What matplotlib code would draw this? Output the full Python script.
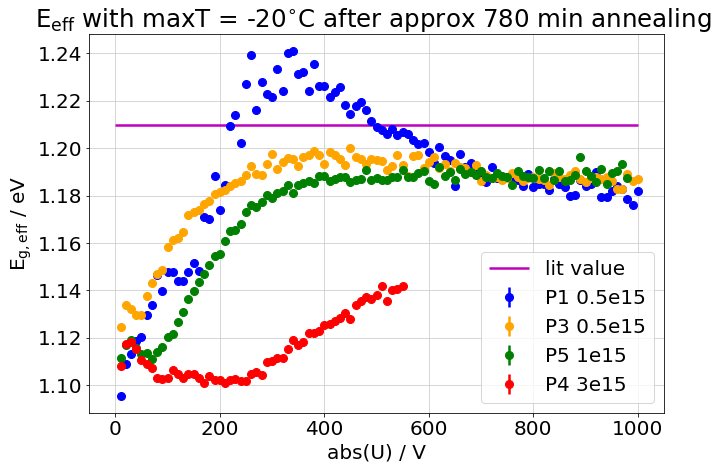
import numpy as np
import matplotlib
matplotlib.use('Agg')
import matplotlib.pyplot as plt

# bias voltage steps (V)
volt = np.arange(10, 1001, 10)
volt_p5 = np.arange(10, 981, 10)
volt_p4 = np.arange(10, 551, 10)

lit_value = 1.21

eg_p1 = [1.0956, 1.1091, 1.1132, 1.1187, 1.1205, 1.1296, 1.1339, 1.1466, 1.1396, 1.1479,
         1.1478, 1.1438, 1.1438, 1.1478, 1.1517, 1.1483, 1.1712, 1.1700, 1.1884, 1.1738,
         1.1846, 1.2092, 1.2140, 1.2024, 1.2270, 1.2393, 1.2160, 1.2280, 1.2228, 1.2216,
         1.2333, 1.2243, 1.2403, 1.2410, 1.2312, 1.2323, 1.2243, 1.2355, 1.2264, 1.2263,
         1.2214, 1.2236, 1.2260, 1.2183, 1.2146, 1.2179, 1.2193, 1.2162, 1.2115, 1.2089,
         1.2075, 1.2062, 1.2083, 1.2057, 1.2069, 1.2058, 1.2034, 1.2019, 1.2021, 1.1982,
         1.1937, 1.2007, 1.1968, 1.1950, 1.1839, 1.1977, 1.1920, 1.1937, 1.1890, 1.1880,
         1.1857, 1.1919, 1.1875, 1.1870, 1.1880, 1.1870, 1.1867, 1.1839, 1.1892, 1.1836,
         1.1849, 1.1850, 1.1822, 1.1870, 1.1849, 1.1835, 1.1800, 1.1802, 1.1864, 1.1840,
         1.1850, 1.1898, 1.1794, 1.1794, 1.1818, 1.1839, 1.1828, 1.1787, 1.1759, 1.1819]

eg_p3 = [1.1244, 1.1339, 1.1322, 1.1296, 1.1298, 1.1378, 1.1431, 1.1469, 1.1488, 1.1583,
         1.1611, 1.1620, 1.1648, 1.1718, 1.1730, 1.1741, 1.1764, 1.1777, 1.1808, 1.1816,
         1.1825, 1.1840, 1.1855, 1.1860, 1.1886, 1.1924, 1.1893, 1.1888, 1.1935, 1.1975,
         1.1914, 1.1940, 1.1957, 1.1954, 1.1923, 1.1961, 1.1972, 1.1987, 1.1972, 1.1934,
         1.1984, 1.1972, 1.1954, 1.1928, 1.2000, 1.1964, 1.1954, 1.1934, 1.1955, 1.1951,
         1.1948, 1.1908, 1.1923, 1.1972, 1.1928, 1.1884, 1.1969, 1.1972, 1.1916, 1.1940,
         1.1961, 1.1916, 1.1933, 1.1905, 1.1937, 1.1920, 1.1916, 1.1900, 1.1930, 1.1860,
         1.1885, 1.1875, 1.1880, 1.1864, 1.1875, 1.1895, 1.1880, 1.1860, 1.1875, 1.1880,
         1.1870, 1.1865, 1.1846, 1.1895, 1.1880, 1.1870, 1.1885, 1.1906, 1.1870, 1.1856,
         1.1875, 1.1880, 1.1870, 1.1880, 1.1862, 1.1829, 1.1828, 1.1892, 1.1860, 1.1870]

eg_p5 = [1.1114, 1.1169, 1.1192, 1.1157, 1.1132, 1.1136, 1.1111, 1.1140, 1.1163, 1.1204,
         1.1216, 1.1267, 1.1308, 1.1365, 1.1398, 1.1434, 1.1471, 1.1509, 1.1544, 1.1555,
         1.1607, 1.1649, 1.1653, 1.1680, 1.1730, 1.1762, 1.1752, 1.1772, 1.1802, 1.1790,
         1.1811, 1.1818, 1.1844, 1.1811, 1.1846, 1.1853, 1.1863, 1.1853, 1.1881, 1.1881,
         1.1863, 1.1871, 1.1877, 1.1878, 1.1856, 1.1867, 1.1871, 1.1910, 1.1867, 1.1874,
         1.1867, 1.1867, 1.1877, 1.1877, 1.1910, 1.1878, 1.1878, 1.1895, 1.1902, 1.1860,
         1.1850, 1.1919, 1.1881, 1.1898, 1.1867, 1.1913, 1.1893, 1.1900, 1.1888, 1.1906,
         1.1878, 1.1874, 1.1895, 1.1884, 1.1878, 1.1846, 1.1906, 1.1884, 1.1878, 1.1874,
         1.1909, 1.1874, 1.1906, 1.1867, 1.1905, 1.1860, 1.1864, 1.1888, 1.1964, 1.1902,
         1.1884, 1.1857, 1.1913, 1.1850, 1.1895, 1.1902, 1.1933, 1.1874]

eg_p4 = [1.1080, 1.1176, 1.1181, 1.1152, 1.1108, 1.1091, 1.1073, 1.1031, 1.1028, 1.1031,
         1.1065, 1.1046, 1.1029, 1.1046, 1.1046, 1.1032, 1.1009, 1.1041, 1.1024, 1.1024,
         1.1009, 1.1024, 1.1027, 1.1017, 1.1017, 1.1049, 1.1055, 1.1042, 1.1097, 1.1103,
         1.1117, 1.1116, 1.1153, 1.1192, 1.1168, 1.1182, 1.1221, 1.1221, 1.1231, 1.1256,
         1.1259, 1.1270, 1.1285, 1.1306, 1.1280, 1.1338, 1.1355, 1.1373, 1.1365, 1.1380,
         1.1418, 1.1355, 1.1404, 1.1408, 1.1418]

plt.rcParams['font.size'] = 20

fig = plt.figure(figsize=(719 / 72, 462 / 72), dpi=72)
ax = fig.add_axes([0.124, 0.106, 0.7995, 0.821])

ax.hlines(lit_value, 0, 1000, color='m', lw=2.5, label='lit value')
for v, eg, c, lab in [(volt, eg_p1, 'blue', 'P1 0.5e15'),
                      (volt, eg_p3, 'orange', 'P3 0.5e15'),
                      (volt_p5, eg_p5, 'green', 'P5 1e15'),
                      (volt_p4, eg_p4, 'red', 'P4 3e15')]:
    ax.errorbar(v, eg, yerr=0.0004, fmt='o', color=c, ms=8, elinewidth=2.5, label=lab)

ax.set_xlim(-50, 1050)
ax.set_ylim(1.0883, 1.2483)
ax.set_xticks([0, 200, 400, 600, 800, 1000])
ax.set_yticks(np.arange(1.10, 1.241, 0.02))
ax.grid(True, color='#cccccc')
ax.set_xlabel('abs(U) / V')
ax.set_ylabel(r'$\mathrm{E_{g,eff}}$ / eV')
ax.set_title(r'$\mathrm{E_{eff}}$ with maxT = -20$^{\circ}$C after approx 780 min annealing',
             fontsize=24.5, x=0.495)
ax.legend(loc='lower right')

fig.savefig('out.png', dpi=72)
